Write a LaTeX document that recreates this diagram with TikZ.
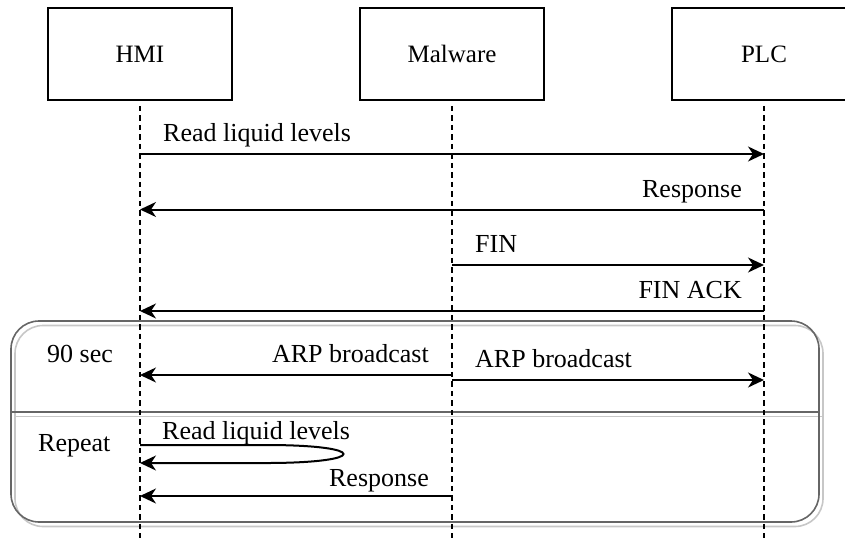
\documentclass[tikz,border=0pt]{standalone}
\usepackage{fontspec}
\setmainfont{Liberation Serif}
\usetikzlibrary{arrows.meta}
\begin{document}
\begin{tikzpicture}[x=1pt,y=-1pt,
  txt/.style={font=\fontsize{26}{31}\selectfont},
  actor/.style={draw, line width=1.7pt, minimum width=184pt, minimum height=92pt, inner sep=0pt, font=\fontsize{25}{30}\selectfont},
  lifeline/.style={line width=1.7pt, dash pattern=on 5.5pt off 4pt},
  msg/.style={line width=2pt, -{Stealth[length=16pt,width=15pt,inset=5pt]}},
  lbl/.style={inner sep=0pt, txt, anchor=base west},
  lblr/.style={inner sep=0pt, txt, anchor=base east},
  frame/.style={rounded corners=28pt, line width=1.6pt, draw=black!60},
  frameshadow/.style={rounded corners=28pt, line width=1.6pt, draw=black!22},
]
\useasboundingbox (0,0) rectangle (845,538);

% combined fragment: 90 sec / Repeat
\draw[frameshadow] (15,325.5) rectangle (823,526.5);
\draw[frameshadow] (15,416.5) -- (823,416.5);
\draw[frame] (11,321) rectangle (819,522);
\draw[frame] (11,412) -- (819,412);
\node[lbl] (sec) at (47,362) {90 sec};
\node[lbl] (rep) at (38,451) {Repeat};

% participants
\node[actor] (hmi) at (140,54) {HMI};
\node[actor] (mal) at (452,54) {Malware};
\node[actor] (plc) at (764,54) {PLC};
\coordinate (bottom) at (0,538);

% lifelines
\draw[lifeline] ([yshift=-5pt]hmi.south) -- (hmi |- bottom);
\draw[lifeline] ([yshift=-5pt]mal.south) -- (mal |- bottom);
\draw[lifeline] ([yshift=-5pt]plc.south) -- (plc |- bottom);

% messages
\draw[msg] (hmi |- 0,154) -- (plc |- 0,154);
\node[lbl] (t1) at (163,141) {Read liquid levels};

\draw[msg] (plc |- 0,209.5) -- (hmi |- 0,209.5);
\node[lblr] (t2) at (742,197) {Response};

\draw[msg] (mal |- 0,265) -- (plc |- 0,265);
\node[lbl] (t3) at (475,252) {FIN};

\draw[msg] (plc |- 0,311) -- (hmi |- 0,311);
\node[lblr] (t4) at (742,298) {FIN ACK};

\draw[msg] (mal |- 0,375) -- (hmi |- 0,375);
\node[lblr] (t5) at (429,362) {ARP broadcast};

\draw[msg] (mal |- 0,380) -- (plc |- 0,380);
\node[lbl] (t6) at (475,367) {ARP broadcast};

\draw[msg] (hmi |- 0,445) -- (270,445)
  .. controls (368,445.5) and (368,462.5) .. (270,463) -- (hmi |- 0,463);
\node[lbl] (t7) at (162,439) {Read liquid levels};

\draw[msg] (mal |- 0,496) -- (hmi |- 0,496);
\node[lblr] (t8) at (429,486) {Response};
\end{tikzpicture}
\end{document}
